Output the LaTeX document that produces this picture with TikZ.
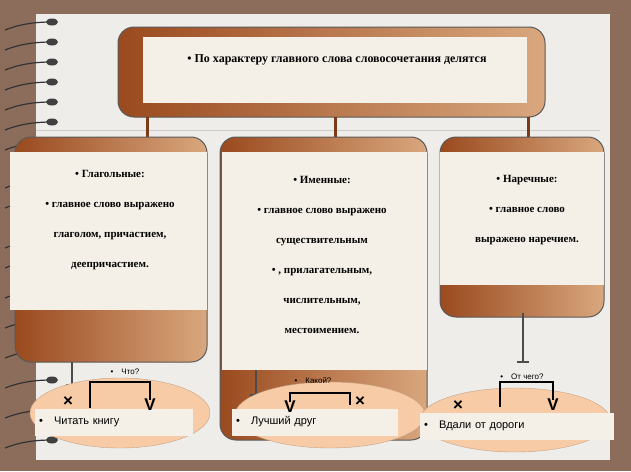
\documentclass[tikz,border=0pt]{standalone}
\usepackage{fontspec}
\setmainfont{Liberation Serif}
\setsansfont{Liberation Sans}
\usetikzlibrary{positioning}
\definecolor{frame}{HTML}{8C6D5B}
\definecolor{paper}{HTML}{EFEDEA}
\definecolor{rust}{HTML}{9A4A1E}
\definecolor{tan}{HTML}{D9A77E}
\definecolor{inner}{HTML}{F4F0E8}
\definecolor{peach}{HTML}{F6CBA6}
\begin{document}
\begin{tikzpicture}[
    x=1pt, y=-1pt,
    every node/.style={font=\bfseries\fontsize{11}{13}\selectfont},
    panel/.style={rounded corners=16pt, left color=rust, right color=tan, draw=gray!70!black, line width=1pt},
    lining/.style={fill=inner},
    stem/.style={draw=rust!80!black, line width=3pt},
    pole/.style={draw=gray!60!black, line width=2pt},
    oval/.style={fill=peach, draw=peach!80!black},
    example/.style={fill=inner, font=\sffamily\fontsize{11}{13}\selectfont, anchor=west, text width=#1, inner sep=4pt, minimum height=27pt},
    bracket/.style={line width=2pt},
    sign/.style={font=\sffamily\bfseries\fontsize{17}{17}\selectfont},
    query/.style={font=\sffamily\fontsize{8}{9}\selectfont},
  ]
  \useasboundingbox (0,0) rectangle (631,471);
  \fill[frame] (0,0) rectangle (631,471);
  \fill[paper] (36,14) rectangle (610,460);
  \draw[gray!40] (36,130) -- (600,130);
  % spiral rings
  \foreach \y in {22,42,62,82,102,122,142,180,200,240,260,290,320,350,380,410,440}{
    \draw[gray!40!black, line width=1.2pt] (5,\y+8) .. controls (20,\y+2) and (35,\y) .. (52,\y);
    \fill[gray!50!black] (52,\y) ellipse (6pt and 3.5pt);
  }
  % heading
  \draw[panel] (118,27) rectangle (545,117);
  \fill[lining] (143,37) rectangle (527,103);
  \node[font=\bfseries\fontsize{12}{14}\selectfont] (head) at (337,60) {\textbullet\ По характеру главного слова словосочетания делятся};
  \foreach \x in {147,335,528}{ \draw[stem] (\x,117) -- (\x,139); }
  % panels
  \draw[panel] (15,137) rectangle (207,362);
  \fill[lining] (10,152) rectangle (207,310);
  \draw[panel] (220,137) rectangle (427,440);
  \fill[lining] (222,152) rectangle (427,370);
  \draw[panel] (440,137) rectangle (604,317);
  \fill[lining] (440,152) rectangle (604,285);
  \node[align=center] (verb) at (110,220) {\textbullet\ Глагольные:\\[17pt]\textbullet\ главное слово выражено\\[17pt]глаголом, причастием,\\[17pt]деепричастием.};
  \node[align=center] (noun) at (322,255) {\textbullet\ Именные:\\[17pt]\textbullet\ главное слово выражено\\[17pt]существительным\\[17pt]\textbullet\ , прилагательным,\\[17pt]числительным,\\[17pt]местоимением.};
  \node[align=center] (adv) at (527,210) {\textbullet\ Наречные:\\[17pt]\textbullet\ главное слово\\[17pt]выражено наречием.};
  % stems down
  \draw[pole] (72,362) -- (72,385); \draw[pole] (66,385) -- (78,385);
  \draw[pole] (256,370) -- (256,395); \draw[pole] (250,395) -- (262,395);
  \draw[pole] (523,313) -- (523,362); \draw[pole] (517,362) -- (529,362);
  % examples
  \fill[oval] (120,413) ellipse (90pt and 35pt);
  \fill[oval] (330,415) ellipse (95pt and 33pt);
  \fill[oval] (515,420) ellipse (95pt and 32pt);
  \node[example=150pt] (ex1) at (35,422) {\textbullet\quad Читать книгу};
  \node[example=158pt] (ex2) at (232,422) {\textbullet\quad Лучший друг};
  \node[example=186pt] (ex3) at (420,426) {\textbullet\quad Вдали от дороги};
  % question brackets
  \draw[bracket] (90,408) -- (90,382) -- (150,382) -- (150,400);
  \node[sign] (v1) at (150,405) {V};
  \node[sign] (x1) at (68,402) {×};
  \node[query] (q1) at (125,372) {\textbullet\quad Что?};
  \draw[bracket] (290,402) -- (290,393) -- (350,393) -- (350,405);
  \node[sign] (v2) at (290,407) {V};
  \node[sign] (x2) at (360,402) {×};
  \node[query] (q2) at (313,381) {\textbullet\quad Какой?};
  \draw[bracket] (500,407) -- (500,382) -- (553,382) -- (553,400);
  \node[sign] (v3) at (553,405) {V};
  \node[sign] (x3) at (458,406) {×};
  \node[query] (q3) at (522,377) {\textbullet\quad От чего?};
\end{tikzpicture}
\end{document}
